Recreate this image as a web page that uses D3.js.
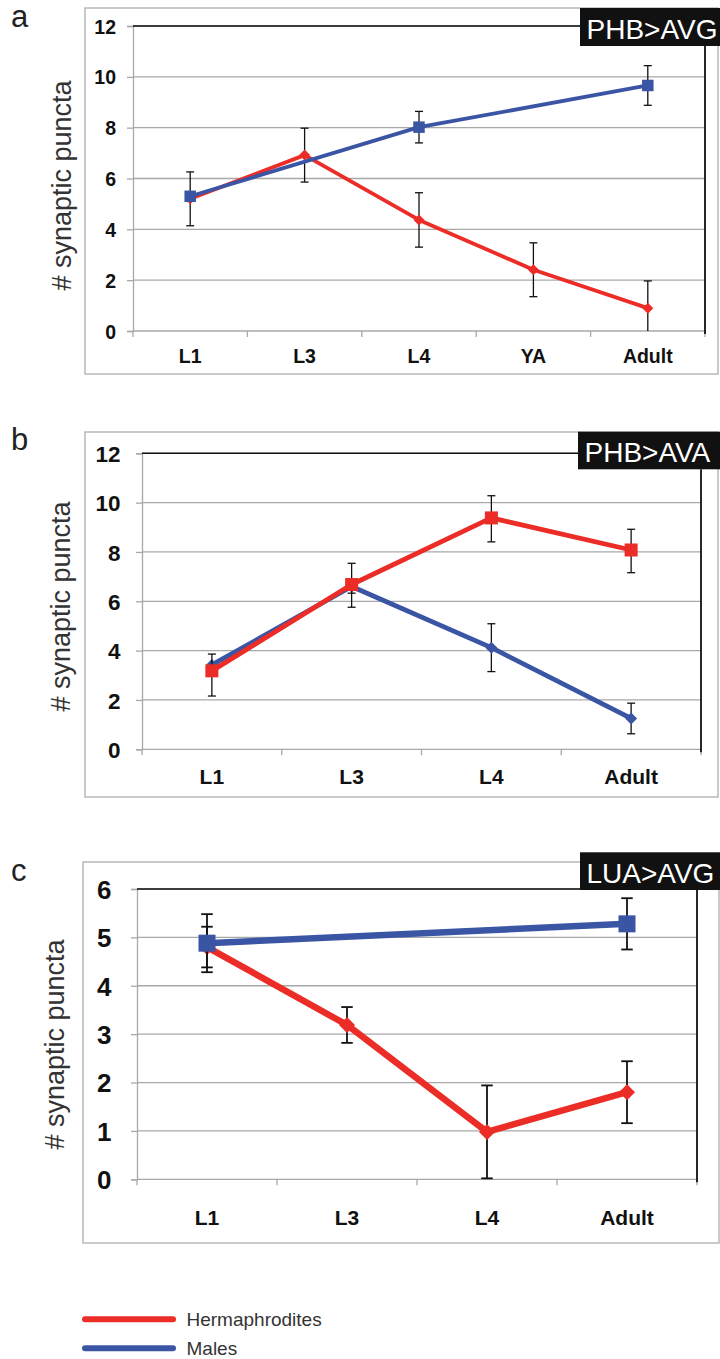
<!DOCTYPE html>
<html>
<head>
<meta charset="utf-8">
<script src="https://cdn.jsdelivr.net/npm/d3@7"></script>
<style>
  html, body { margin: 0; padding: 0; background: #fff; }
  svg { display: block; font-family: "Liberation Sans", Arial, sans-serif; }
</style>
</head>
<body>
<svg id="chart" width="720" height="1359"></svg>
<script>
// ---------- DATA ----------
// Panel a: PHB>AVG
const catsA = ["L1", "L3", "L4", "YA", "Adult"];
const ticksA = [0, 2, 4, 6, 8, 10, 12];
const hermA = [5.2, 6.92, 4.37, 2.41, 0.9];
const hermErrA = [1.06, 1.06, 1.07, 1.06, 1.07];
const maleA = [5.3, null, 8.02, null, 9.66];
const maleErrA = [0, null, 0.62, null, 0.78];

// Panel b: PHB>AVA
const catsB = ["L1", "L3", "L4", "Adult"];
const ticksB = [0, 2, 4, 6, 8, 10, 12];
const hermB = [3.18, 6.68, 9.38, 8.08];
const hermErrLoB = [1.02, 0.92, 0.97, 0.92];
const hermErrHiB = [0.68, 0.86, 0.9, 0.84];
const maleB = [3.42, 6.6, 4.12, 1.25];
const maleErrB = [0, 0.27, 0.97, 0.62];

// Panel c: LUA>AVG
const catsC = ["L1", "L3", "L4", "Adult"];
const ticksC = [0, 1, 2, 3, 4, 5, 6];
const hermC = [4.8, 3.19, 0.98, 1.8];
const hermErrC = [0.42, 0.37, 0.96, 0.64];
const maleC = [4.88, null, null, 5.28];
const maleErrC = [0.6, null, null, 0.53];

const legendLabels = ["Hermaphrodites", "Males"];

// ---------- STYLE ----------
const RED = "#ec2c26";
const BLUE = "#3b55a5";
const GRID = "#a8a8a8";
const FRAME = "#b8b8b8";

const svg = d3.select("#chart");

function diamondPath(s) {
  const h = s / 2;
  return `M0,${-h}L${h},0L0,${h}L${-h},0Z`;
}

function drawPanel(cfg) {
  const g = svg.append("g");
  // outer frame
  g.append("rect")
    .attr("x", cfg.frame.x).attr("y", cfg.frame.y)
    .attr("width", cfg.frame.w).attr("height", cfg.frame.h)
    .attr("fill", "none").attr("stroke", FRAME).attr("stroke-width", 1.5);

  // panel letter
  g.append("text").attr("x", 11).attr("y", cfg.letterY)
    .attr("font-size", 31).attr("fill", "#222").text(cfg.letter);

  const x = d3.scaleBand().domain(cfg.cats).range([cfg.plot.l, cfg.plot.r]).padding(0);
  const y = d3.scaleLinear().domain([0, cfg.yMax]).range([cfg.plot.b, cfg.plot.t]);
  const cx = c => x(c) + x.bandwidth() / 2;

  // gridlines
  g.append("g").selectAll("line").data(cfg.ticks.filter(t => t > 0)).join("line")
    .attr("x1", cfg.plot.l).attr("x2", cfg.plot.r)
    .attr("y1", d => y(d)).attr("y2", d => y(d))
    .attr("stroke", GRID).attr("stroke-width", 1.3);

  // left axis
  const yAxis = d3.axisLeft(y).tickValues(cfg.ticks).tickSize(6).tickFormat(d3.format("d"));
  const ya = g.append("g").attr("transform", `translate(${cfg.plot.l},0)`).call(yAxis);
  ya.select(".domain").attr("stroke", GRID).attr("stroke-width", 1.3);
  ya.selectAll(".tick line").attr("stroke", GRID).attr("stroke-width", 1.3);
  ya.selectAll(".tick text")
    .attr("x", -(cfg.plot.l - cfg.yLabelRight))
    .attr("dy", "0.36em")
    .attr("font-size", cfg.yFont).attr("font-weight", "bold")
    .attr("font-family", "Liberation Sans, Arial, sans-serif")
    .attr("fill", "#111");

  // bottom axis
  const xa = g.append("g").attr("transform", `translate(0,${cfg.plot.b})`);
  xa.append("line").attr("x1", cfg.plot.l).attr("x2", cfg.plot.r)
    .attr("y1", 0).attr("y2", 0).attr("stroke", GRID).attr("stroke-width", 1.3);
  const bounds = cfg.cats.map(c => x(c)).concat([cfg.plot.r]);
  xa.selectAll("line.tk").data(bounds).join("line").attr("class", "tk")
    .attr("x1", d => d).attr("x2", d => d).attr("y1", 0).attr("y2", 6)
    .attr("stroke", GRID).attr("stroke-width", 1.3);
  g.append("g").selectAll("text").data(cfg.cats).join("text")
    .attr("x", d => cx(d)).attr("y", cfg.xLabelY)
    .attr("text-anchor", "middle").attr("font-size", cfg.xFont)
    .attr("font-weight", "bold").attr("fill", "#111").text(d => d);

  // top black border and right black border
  g.append("line").attr("x1", cfg.plot.l).attr("x2", cfg.box.x)
    .attr("y1", cfg.plot.t).attr("y2", cfg.plot.t)
    .attr("stroke", "#111").attr("stroke-width", 1.5);
  g.append("line").attr("x1", cfg.plot.r).attr("x2", cfg.plot.r)
    .attr("y1", cfg.box.y + cfg.box.h).attr("y2", cfg.plot.b + 3)
    .attr("stroke", "#111").attr("stroke-width", 1.8);

  // y title
  g.append("text")
    .attr("transform", `translate(${cfg.yTitle.x},${cfg.yTitle.y}) rotate(-90)`)
    .attr("text-anchor", "middle").attr("dy", "0.35em")
    .attr("font-size", 27).attr("fill", "#333").text("# synaptic puncta");

  // series
  cfg.series.forEach(s => {
    const pts = cfg.cats.map((c, i) => ({
      c, v: s.values[i],
      lo: s.errLo[i], hi: s.errHi[i]
    })).filter(p => p.v !== null && p.v !== undefined);

    // error bars
    const eb = g.append("g").attr("stroke", "#111").attr("stroke-width", cfg.errW);
    pts.filter(p => (p.lo || 0) > 0 || (p.hi || 0) > 0).forEach(p => {
      const top = p.v + (p.hi || 0);
      const botRaw = p.v - (p.lo || 0);
      const bot = Math.max(0, botRaw);
      const X = cx(p.c);
      eb.append("line").attr("x1", X).attr("x2", X).attr("y1", y(top)).attr("y2", y(bot));
      if (p.hi > 0) eb.append("line").attr("x1", X - cfg.cap / 2).attr("x2", X + cfg.cap / 2)
        .attr("y1", y(top)).attr("y2", y(top));
      if (p.lo > 0 && botRaw >= 0) eb.append("line").attr("x1", X - cfg.cap / 2).attr("x2", X + cfg.cap / 2)
        .attr("y1", y(bot)).attr("y2", y(bot));
    });

    // line
    const line = d3.line().x(p => cx(p.c)).y(p => y(p.v));
    g.append("path").datum(pts).attr("d", line)
      .attr("fill", "none").attr("stroke", s.color)
      .attr("stroke-width", cfg.lineW).attr("stroke-linejoin", "round");

    // markers
    const mk = g.append("g");
    pts.forEach(p => {
      if (s.shape === "square") {
        mk.append("rect")
          .attr("x", cx(p.c) - cfg.sq / 2).attr("y", y(p.v) - cfg.sq / 2)
          .attr("width", cfg.sq).attr("height", cfg.sq).attr("fill", s.color);
      } else {
        mk.append("path").attr("d", diamondPath(cfg.dia))
          .attr("transform", `translate(${cx(p.c)},${y(p.v)})`).attr("fill", s.color);
      }
    });
  });

  // title box
  g.append("rect").attr("x", cfg.box.x).attr("y", cfg.box.y)
    .attr("width", cfg.box.w).attr("height", cfg.box.h).attr("fill", "#111");
  g.append("text").attr("x", cfg.box.x + 6.5).attr("y", cfg.box.y + 30.5)
    .attr("font-size", 28).attr("fill", "#fff").text(cfg.box.text);
}

drawPanel({
  letter: "a", letterY: 27,
  frame: { x: 85, y: 8, w: 633, h: 366 },
  plot: { l: 133, r: 705, t: 26, b: 331 },
  cats: catsA, ticks: ticksA, yMax: 12,
  yLabelRight: 116, yFont: 19.5, xFont: 19.5, xLabelY: 363,
  yTitle: { x: 62, y: 185.5 },
  box: { x: 580, y: 8, w: 140, h: 38, text: "PHB>AVG" },
  lineW: 3.8, sq: 11.5, dia: 11, cap: 8, errW: 1.3,
  series: [
    { values: hermA, errLo: hermErrA, errHi: hermErrA, color: RED, shape: "diamond" },
    { values: maleA, errLo: maleErrA, errHi: maleErrA, color: BLUE, shape: "square" }
  ]
});

drawPanel({
  letter: "b", letterY: 450,
  frame: { x: 85, y: 432, w: 633, h: 365 },
  plot: { l: 142, r: 701, t: 453.3, b: 749.3 },
  cats: catsB, ticks: ticksB, yMax: 12,
  yLabelRight: 120.5, yFont: 22.5, xFont: 21, xLabelY: 784,
  yTitle: { x: 61, y: 606.5 },
  box: { x: 578, y: 431.7, w: 142, h: 37.6, text: "PHB>AVA" },
  lineW: 4.8, sq: 13, dia: 12, cap: 8, errW: 1.3,
  series: [
    { values: maleB, errLo: maleErrB, errHi: maleErrB, color: BLUE, shape: "diamond" },
    { values: hermB, errLo: hermErrLoB, errHi: hermErrHiB, color: RED, shape: "square" }
  ]
});

drawPanel({
  letter: "c", letterY: 881,
  frame: { x: 83, y: 862, w: 636, h: 381 },
  plot: { l: 137, r: 697, t: 889, b: 1179.3 },
  cats: catsC, ticks: ticksC, yMax: 6,
  yLabelRight: 111.5, yFont: 26, xFont: 21, xLabelY: 1225,
  yTitle: { x: 55, y: 1044.5 },
  box: { x: 580, y: 852.3, w: 140, h: 37.7, text: "LUA>AVG" },
  lineW: 6.5, sq: 17, dia: 16, cap: 11.5, errW: 1.8,
  series: [
    { values: hermC, errLo: hermErrC, errHi: hermErrC, color: RED, shape: "diamond" },
    { values: maleC, errLo: maleErrC, errHi: maleErrC, color: BLUE, shape: "square" }
  ]
});

// ---------- LEGEND ----------
const legColors = [RED, BLUE];
const legY = [1319.3, 1348.2];
const leg = svg.append("g");
legendLabels.forEach((lab, i) => {
  leg.append("line").attr("x1", 85).attr("x2", 173)
    .attr("y1", legY[i]).attr("y2", legY[i])
    .attr("stroke", legColors[i]).attr("stroke-width", 6).attr("stroke-linecap", "round");
  leg.append("text").attr("x", 186.5).attr("y", legY[i] + 7)
    .attr("font-size", 19).attr("fill", "#333").text(lab);
});
</script>
</body>
</html>
